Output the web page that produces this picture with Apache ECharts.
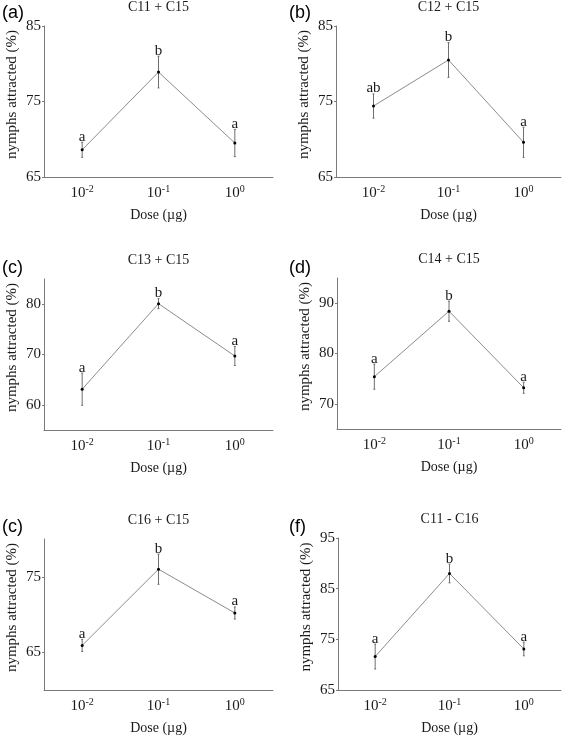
<!DOCTYPE html>
<html><head><meta charset="utf-8">
<script src="https://cdn.jsdelivr.net/npm/echarts@6/dist/echarts.min.js"></script>
<style>html,body{margin:0;padding:0;background:#fff}#c{width:567px;height:737px}</style>
</head><body><div id="c"></div>
<script>
// ---- data ----
const doseExponents = ['-2', '-1', '0'];
const panelTitles = ['C11 + C15', 'C12 + C15', 'C13 + C15', 'C14 + C15', 'C16 + C15', 'C11 - C16'];
const panelTags = ['(a)', '(b)', '(c)', '(d)', '(c)', '(f)'];

const meansA = [68.6, 78.9, 69.5];  const errsA = [1.0, 2.1, 1.8];  const groupsA = ['a', 'b', 'a'];
const meansB = [74.4, 80.5, 69.6];  const errsB = [1.6, 2.3, 2.0];  const groupsB = ['ab', 'b', 'a'];
const meansC = [63.1, 80.1, 69.7];  const errsC = [3.2, 1.0, 1.9];  const groupsC = ['a', 'b', 'a'];
const meansD = [75.4, 88.4, 73.2];  const errsD = [2.5, 2.0, 1.1];  const groupsD = ['a', 'b', 'a'];
const meansE = [65.9, 76.0, 70.2];  const errsE = [0.8, 2.0, 0.8];  const groupsE = ['a', 'b', 'a'];
const meansF = [71.6, 88.0, 73.1];  const errsF = [2.45, 1.85, 1.35]; const groupsF = ['a', 'b', 'a'];

const yMins = [65, 65, 55, 65, 60, 65];
const yMaxs = [85, 85, 85, 95, 80, 95];
const yTicks = [[65, 75, 85], [65, 75, 85], [60, 70, 80], [70, 80, 90], [65, 75], [65, 75, 85, 95]];

// ---- layout / style ----
const panels = [
  {m: meansA, e: errsA, g: groupsA},
  {m: meansB, e: errsB, g: groupsB},
  {m: meansC, e: errsC, g: groupsC},
  {m: meansD, e: errsD, g: groupsD},
  {m: meansE, e: errsE, g: groupsE},
  {m: meansF, e: errsF, g: groupsF}
];
const GRIDS = [
  {left: 44, top: 26, width: 229, height: 151},
  {left: 336, top: 26, width: 225, height: 151},
  {left: 44, top: 279, width: 229, height: 151},
  {left: 337, top: 278, width: 224, height: 151},
  {left: 44, top: 539, width: 229, height: 151},
  {left: 338, top: 538, width: 223, height: 152}
];
const TAG_POS = [[2, 4], [289, 4], [2, 259], [289, 259], [2, 518], [289, 518]];
const SERIF = '"Liberation Serif"';
const SANS = '"Liberation Sans"';
const AXIS_COLOR = '#7a7a7a';
const TEXT_COLOR = '#1a1a1a';

const option = {
  backgroundColor: '#fff',
  animation: false,
  title: GRIDS.map((g, i) => ({
    text: panelTitles[i],
    left: g.left + g.width / 2,
    top: g.top - 26,
    textAlign: 'center',
    padding: 0,
    textStyle: {fontFamily: SERIF, fontSize: 14, fontWeight: 'normal', color: TEXT_COLOR}
  })),
  graphic: TAG_POS.map((p, i) => ({
    type: 'text', left: p[0], top: p[1],
    style: {text: panelTags[i], font: '18px ' + SANS, fill: '#000'}
  })),
  grid: GRIDS.map(g => Object.assign({}, g)),
  xAxis: GRIDS.map((g, i) => ({
    type: 'category', gridIndex: i, data: doseExponents, boundaryGap: true,
    name: 'Dose (\u00b5g)', nameLocation: 'middle', nameGap: 31,
    nameTextStyle: {fontFamily: SERIF, fontSize: 14, color: TEXT_COLOR},
    axisLine: {lineStyle: {color: AXIS_COLOR, width: 1}},
    axisTick: {alignWithLabel: true, interval: 0, length: 2, lineStyle: {color: AXIS_COLOR}},
    axisLabel: {
      interval: 0,
      margin: 7,
      formatter: v => '{b|10}{s|' + v + '}',
      rich: {
        b: {fontFamily: SERIF, fontSize: 15, color: TEXT_COLOR},
        s: {fontFamily: SERIF, fontSize: 10, color: TEXT_COLOR, padding: [0, 0, 8, 0]}
      }
    },
    splitLine: {show: false}
  })),
  yAxis: GRIDS.map((g, i) => ({
    type: 'value', gridIndex: i, min: yMins[i], max: yMaxs[i],
    name: 'nymphs attracted (%)', nameLocation: 'middle', nameGap: 24,
    nameTextStyle: {fontFamily: SERIF, fontSize: 15, color: TEXT_COLOR, padding: [0, 0, 0, 14]},
    axisLine: {show: true, lineStyle: {color: AXIS_COLOR, width: 1}},
    axisTick: {show: true, length: 2, customValues: yTicks[i], lineStyle: {color: AXIS_COLOR}},
    axisLabel: {customValues: yTicks[i], margin: 3, fontFamily: SERIF, fontSize: 15, color: TEXT_COLOR},
    splitLine: {show: false}
  })),
  series: []
};

panels.forEach((p, i) => {
  option.series.push({
    type: 'line', xAxisIndex: i, yAxisIndex: i,
    data: p.m,
    symbol: 'circle', symbolSize: 3,
    itemStyle: {color: '#000'},
    lineStyle: {color: '#8c8c8c', width: 1},
    z: 3
  });
  option.series.push({
    type: 'custom', xAxisIndex: i, yAxisIndex: i,
    data: p.m.map((m, k) => [k, m - p.e[k], m + p.e[k]]),
    encode: {x: 0, y: [1, 2]},
    z: 2,
    renderItem: (params, api) => {
      const lo = api.coord([api.value(0), api.value(1)]);
      const hi = api.coord([api.value(0), api.value(2)]);
      const st = {stroke: '#6e6e6e', lineWidth: 1};
      return {
        type: 'group',
        children: [
          {type: 'line', shape: {x1: lo[0], y1: lo[1], x2: hi[0], y2: hi[1]}, style: st},
          {type: 'line', shape: {x1: lo[0] - 1, y1: lo[1], x2: lo[0] + 1, y2: lo[1]}, style: st},
          {type: 'line', shape: {x1: hi[0] - 1, y1: hi[1], x2: hi[0] + 1, y2: hi[1]}, style: st},
          {type: 'text', x: hi[0], y: hi[1] + 2,
           style: {text: p.g[params.dataIndex], font: '15px ' + SERIF, fill: TEXT_COLOR,
                   align: 'center', verticalAlign: 'bottom'}}
        ]
      };
    }
  });
});

const chart = echarts.init(document.getElementById('c'), null, {renderer: 'canvas'});
chart.setOption(option);
</script>
</body></html>
